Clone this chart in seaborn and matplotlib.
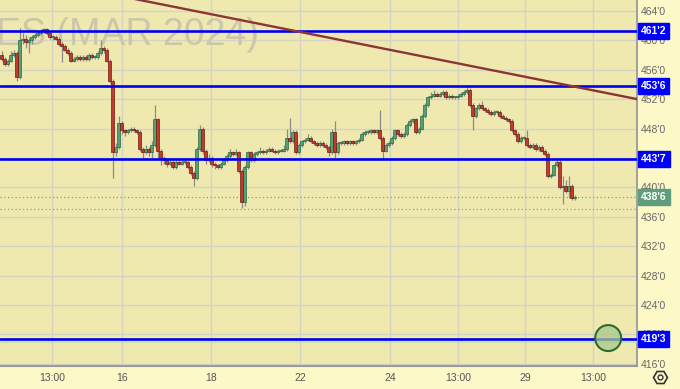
import matplotlib
matplotlib.use("Agg")
import matplotlib.pyplot as plt
import matplotlib.transforms as mtransforms
from matplotlib.lines import Line2D
from matplotlib.ticker import FuncFormatter
import seaborn as sns
import pandas as pd

# ---------------- data ----------------
title = "ES (MAR 2024)"
first_open = 458.0
closes = [
    457.5, 456.75, 457.25, 458.0, 458.25, 455.0, 460.0, 460.25, 459.75, 460.0,
    460.5, 460.75, 461.0, 461.25, 461.5, 461.0, 460.5, 460.5, 460.25, 459.5,
    459.25, 458.75, 458.25, 457.25, 457.5, 457.75, 457.5, 457.75, 457.5, 458.0,
    457.75, 457.75, 458.25, 459.0, 458.75, 457.25, 454.5, 444.75, 445.5, 448.75,
    447.75, 447.5, 447.75, 448.0, 447.75, 447.5, 445.25, 444.75, 445.25, 444.75,
    445.75, 449.25, 445.0, 444.0, 443.75, 443.25, 443.5, 442.75, 443.5, 443.25,
    443.5, 443.5, 442.75, 442.0, 441.25, 445.25, 448.0, 445.0, 443.75, 444.0,
    443.25, 443.0, 442.75, 443.25, 443.75, 444.25, 444.75, 444.5, 444.75, 442.25,
    438.0, 442.75, 444.75, 443.75, 444.5, 444.75, 445.0, 444.75, 445.0, 445.25,
    445.0, 444.75, 445.0, 445.0, 445.25, 446.75, 446.25, 447.5, 444.75, 445.75,
    446.25, 446.5, 446.75, 446.25, 446.0, 445.75, 446.0, 445.75, 445.5, 444.75,
    447.5, 444.75, 446.0, 446.0, 446.25, 446.0, 446.25, 446.0, 446.25, 446.5,
    447.25, 447.5, 447.5, 447.75, 447.5, 447.75, 446.75, 445.0, 445.75, 446.0,
    446.75, 447.75, 447.25, 447.0, 447.25, 448.5, 449.0, 449.25, 447.5, 448.0,
    449.75, 451.25, 452.25, 452.5, 452.75, 452.5, 452.75, 453.0, 452.25, 452.5,
    452.25, 452.25, 452.5, 452.75, 453.0, 453.25, 451.25, 449.75, 450.75, 451.25,
    450.75, 450.5, 450.25, 450.0, 450.25, 450.25, 449.75, 449.5, 449.25, 449.0,
    447.75, 447.25, 446.25, 446.75, 446.75, 445.75, 445.5, 445.75, 445.25, 445.5,
    445.0, 444.5, 441.5, 441.75, 443.0, 443.5, 440.0, 440.25, 439.5, 440.25,
    438.5, 438.75,
]
highs = [
    458.5, 457.75, 457.5, 458.5, 458.75, 458.5, 461.75, 461.0, 460.75, 460.5,
    460.75, 461.0, 461.25, 461.5, 461.75, 461.75, 461.25, 460.75, 460.75, 460.5,
    459.75, 459.5, 459.0, 458.5, 457.75, 458.0, 458.0, 458.0, 458.0, 458.25,
    458.25, 458.0, 458.5, 460.0, 459.25, 459.0, 457.5, 454.75, 446.0, 449.75,
    449.0, 448.0, 448.0, 448.25, 448.25, 448.0, 447.75, 445.5, 445.75, 445.5,
    446.25, 451.25, 449.5, 445.25, 444.25, 444.0, 444.0, 443.75, 443.75, 444.0,
    444.0, 443.75, 443.75, 443.0, 442.25, 445.5, 448.5, 448.25, 445.25, 444.5,
    444.25, 443.5, 443.25, 443.5, 444.0, 444.5, 445.25, 445.0, 445.25, 445.0,
    442.5, 443.0, 445.0, 445.0, 444.75, 445.0, 445.5, 445.25, 445.25, 445.5,
    445.5, 445.25, 445.25, 445.25, 445.75, 448.0, 449.5, 447.75, 447.75, 446.0,
    446.5, 446.75, 447.25, 447.0, 446.5, 446.25, 446.25, 446.25, 446.0, 445.75,
    448.0, 449.0, 446.25, 446.25, 446.5, 446.5, 446.5, 446.5, 446.5, 446.75,
    447.5, 447.75, 447.75, 448.0, 448.0, 448.0, 450.5, 447.0, 446.0, 446.25,
    447.0, 448.0, 448.0, 447.5, 447.5, 448.75, 449.25, 449.5, 449.5, 448.25,
    450.0, 451.5, 452.5, 453.0, 453.25, 453.0, 453.0, 453.25, 453.25, 452.75,
    452.75, 452.5, 452.75, 453.0, 453.25, 453.75, 453.5, 451.5, 451.0, 451.5,
    451.75, 451.0, 450.75, 450.5, 450.5, 450.5, 450.5, 450.0, 449.75, 449.5,
    449.25, 448.0, 447.5, 447.0, 447.0, 447.75, 446.0, 446.0, 446.0, 445.75,
    445.75, 445.25, 444.75, 442.0, 443.25, 444.0, 443.75, 441.5, 441.0, 441.5,
    440.5, 439.0,
]
lows = [
    457.25, 456.5, 456.5, 457.0, 457.75, 454.5, 454.75, 459.5, 459.0, 458.25,
    459.5, 460.25, 460.5, 460.75, 461.0, 460.75, 460.25, 460.0, 460.0, 459.25,
    457.0, 458.5, 458.0, 457.0, 457.0, 457.25, 457.25, 457.25, 457.25, 457.25,
    457.5, 457.5, 457.5, 458.0, 458.25, 457.0, 454.25, 441.25, 444.25, 445.25,
    447.25, 447.0, 447.25, 447.5, 447.5, 447.25, 445.0, 444.0, 444.5, 444.25,
    444.0, 445.5, 444.0, 443.0, 443.25, 442.75, 443.0, 442.5, 442.5, 443.0,
    443.0, 443.25, 442.5, 441.75, 440.25, 441.0, 445.0, 444.5, 443.25, 443.5,
    442.75, 442.5, 442.5, 442.5, 443.0, 443.5, 444.0, 444.25, 444.25, 442.0,
    437.25, 437.5, 442.5, 443.5, 443.5, 444.25, 444.5, 444.5, 444.5, 444.75,
    444.75, 444.5, 444.5, 444.75, 444.75, 445.0, 446.0, 446.0, 444.5, 444.5,
    445.5, 446.0, 446.25, 446.0, 445.75, 445.5, 445.5, 445.5, 445.25, 444.25,
    444.5, 444.0, 444.5, 445.75, 445.75, 445.75, 445.75, 445.75, 445.75, 446.0,
    446.25, 447.0, 447.25, 447.25, 447.25, 447.25, 446.5, 444.0, 444.75, 445.5,
    445.75, 446.5, 447.0, 446.75, 446.75, 447.0, 448.25, 448.75, 447.25, 447.25,
    447.75, 449.5, 451.0, 452.0, 452.25, 452.25, 452.25, 452.5, 452.0, 452.0,
    452.0, 452.0, 452.0, 452.25, 452.5, 452.75, 451.0, 447.75, 449.5, 450.5,
    450.5, 450.25, 450.0, 449.75, 449.75, 450.0, 449.5, 449.25, 449.0, 448.75,
    447.5, 447.0, 446.0, 446.0, 446.5, 445.5, 445.25, 445.25, 445.0, 445.0,
    444.75, 444.25, 441.25, 441.25, 441.5, 442.75, 439.75, 437.75, 439.25, 438.5,
    438.25, 438.25,
]

tick_positions = [16.8, 40.2, 69.8, 99.5, 129.5, 152.2, 174.5, 197.2]
tick_labels = ["13:00", "16", "18", "22", "24", "13:00", "29", "13:00"]
price_ticks = [416, 420, 424, 428, 432, 436, 440, 444, 448, 452, 456, 460, 464]

levels = [461.25, 453.75, 443.875, 419.375]
level_labels = ["461'2", "453'6", "443'7", "419'3"]
last_price = 438.75
last_label = "438'6"
ref_dotted = 437.0
faint_level = 419.0

trend_x = [0, 212]
trend_y = [469.25, 452.0]
alert_x = [202.2]
alert_y = [419.5]

# ---------------- style ----------------
sns.set_theme(style="white")
plt.rcParams["font.family"] = ["Liberation Sans", "DejaVu Sans"]

PLOT_BG = "#efe9b0"
FIG_BG = "#fdf8c8"
GREEN = "#55a077"
GREEN_EDGE = "#2b6a45"
RED = "#c23a2c"
RED_EDGE = "#6e1c14"
WICK = "#8a8a86"

fig = plt.figure(figsize=(6.8, 3.89), dpi=100, facecolor=FIG_BG)
ax = fig.add_axes([0, 23 / 389, 637 / 680, 366 / 389])
ax.set_facecolor(PLOT_BG)

n = len(closes)
opens = [first_open] + closes[:-1]
df = pd.DataFrame({"idx": range(n), "open": opens, "close": closes,
                   "high": highs, "low": lows})
df["up"] = df["close"] >= df["open"]
df["bottom"] = df[["open", "close"]].min(axis=1)
df["height"] = (df["close"] - df["open"]).abs().clip(lower=0.12)

# watermark
ax.text(-4 / 637, 1 - 45 / 366, title, transform=ax.transAxes, fontsize=27,
        color="#cbc7a8", ha="left", va="baseline", zorder=1, clip_on=True)

# grid
ax.set_yticks(price_ticks)
ax.set_xticks(tick_positions)
ax.set_xticklabels(tick_labels)
ax.grid(True, color="#d4d4c4", lw=1.0, zorder=0)
ax.set_axisbelow(True)

# wicks and bodies
ax.vlines(df["idx"], df["low"], df["high"], color=WICK, lw=0.9, zorder=3)
up = df[df["up"]]
dn = df[~df["up"]]
ax.bar(up["idx"], up["height"], bottom=up["bottom"], width=0.75,
       color=GREEN, edgecolor=GREEN_EDGE, linewidth=0.5, zorder=4)
ax.bar(dn["idx"], dn["height"], bottom=dn["bottom"], width=0.75,
       color=RED, edgecolor=RED_EDGE, linewidth=0.5, zorder=4)

# levels
for lev in levels:
    ax.axhline(lev, color="#0000f0", lw=1.9, zorder=5)
ax.axhline(faint_level, color="#bfe0b2", lw=1.2, zorder=4.5)
ax.axhline(last_price, color="#6aa886", lw=0.9, ls=(0, (1, 2)), zorder=2)
ax.axhline(ref_dotted, color="#9a9a90", lw=0.9, ls=(0, (1, 2)), zorder=2)

# trend line
sns.lineplot(x=trend_x, y=trend_y, ax=ax, color="#8b3535", lw=1.7, zorder=5)

# alert circle
sns.scatterplot(x=alert_x, y=alert_y, ax=ax, s=350, color="#a7c98a",
                alpha=0.75, linewidth=0, zorder=6, legend=False)
sns.scatterplot(x=alert_x, y=alert_y, ax=ax, s=350, facecolor="none",
                edgecolor="#2e6a2e", linewidth=1.5, zorder=7, legend=False)

ax.set_xlim(-0.5, 211.8)
ax.set_ylim(415.7, 465.5)

# axes look
for s in ["top", "left"]:
    ax.spines[s].set_visible(False)
ax.spines["right"].set_color("#9a9a9a")
ax.spines["right"].set_linewidth(1.3)
ax.spines["bottom"].set_color("#9a9a9a")
ax.spines["bottom"].set_linewidth(1.5)

ax.yaxis.tick_right()
ax.yaxis.set_major_formatter(FuncFormatter(lambda v, p: f"{int(round(v))}'0"))
ax.tick_params(axis="y", length=0, pad=3, labelsize=7.5, labelcolor="#666666")
ax.tick_params(axis="x", length=0, pad=5, labelsize=7.5, labelcolor="#555555")
ax.set_xlabel("")
ax.set_ylabel("")

# price label boxes
blend = mtransforms.blended_transform_factory(ax.transAxes, ax.transData)
for lev, lab in zip(levels, level_labels):
    ax.text(1.0 + 4 / 637, lev, lab, transform=blend, ha="left", va="center",
            color="white", fontsize=7.5, fontweight="bold", clip_on=False,
            zorder=10,
            bbox=dict(boxstyle="square,pad=0.28", fc="#0000ff", ec="#0000ff"))
ax.text(1.0 + 4 / 637, last_price, last_label, transform=blend, ha="left",
        va="center", color="white", fontsize=7.5, fontweight="bold",
        clip_on=False, zorder=10,
        bbox=dict(boxstyle="square,pad=0.28", fc="#5f9e7c", ec="#5f9e7c"))

# settings icon
fig.add_artist(Line2D([660 / 680], [12 / 389], marker="H", markersize=10,
                      mfc="none", mec="#333333", mew=1.2, transform=fig.transFigure))
fig.add_artist(Line2D([660 / 680], [12 / 389], marker="o", markersize=3.5,
                      mfc="none", mec="#333333", mew=1.0, transform=fig.transFigure))

fig.savefig("out.png", dpi=100, facecolor=FIG_BG)
